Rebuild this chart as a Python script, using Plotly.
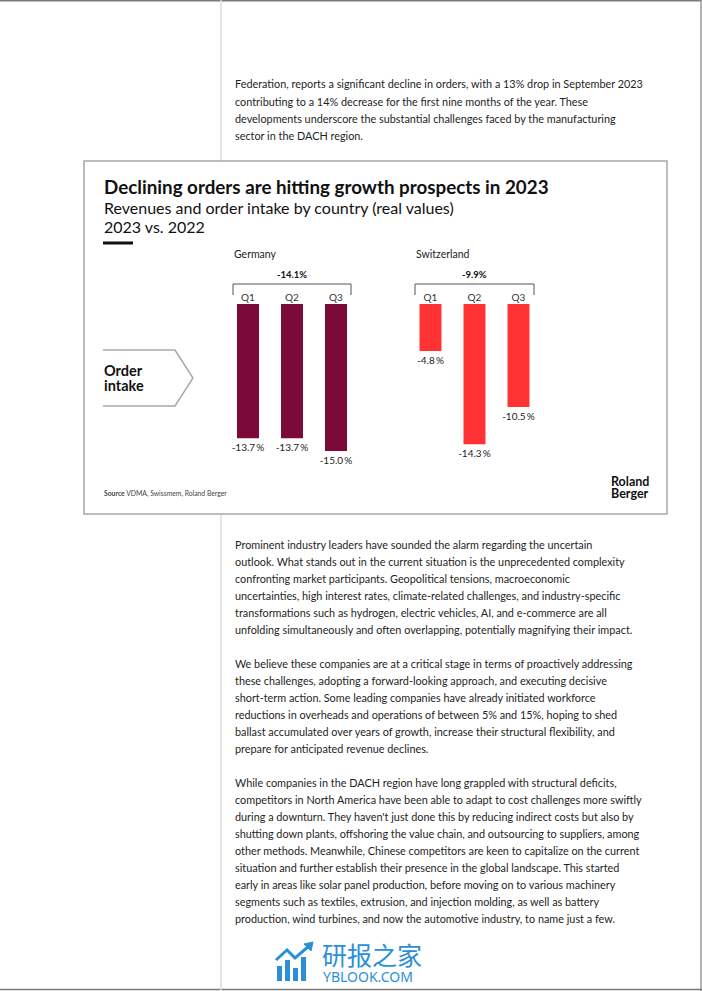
import plotly.graph_objects as go

W, H = 702, 991

# ---------------- data ----------------
quarters = ["Q1", "Q2", "Q3"]
germany_values = [-13.7, -13.7, -15.0]
switzerland_values = [-4.8, -14.3, -10.5]
germany_total = "-14.1%"
switzerland_total = "-9.9%"
germany_color = "#7b0a3a"
switzerland_color = "#ff3333"

title = "Declining orders are hitting growth prospects in 2023"
subtitle = "Revenues and order intake by country (real values)"
subtitle2 = "2023 vs. 2022"

para1 = [
    "Federation, reports a significant decline in orders, with a 13% drop in September 2023",
    "contributing to a 14% decrease for the first nine months of the year. These",
    "developments underscore the substantial challenges faced by the manufacturing",
    "sector in the DACH region.",
]
para2 = [
    "Prominent industry leaders have sounded the alarm regarding the uncertain",
    "outlook. What stands out in the current situation is the unprecedented complexity",
    "confronting market participants. Geopolitical tensions, macroeconomic",
    "uncertainties, high interest rates, climate-related challenges, and industry-specific",
    "transformations such as hydrogen, electric vehicles, AI, and e-commerce are all",
    "unfolding simultaneously and often overlapping, potentially magnifying their impact.",
]
para3 = [
    "We believe these companies are at a critical stage in terms of proactively addressing",
    "these challenges, adopting a forward-looking approach, and executing decisive",
    "short-term action. Some leading companies have already initiated workforce",
    "reductions in overheads and operations of between 5% and 15%, hoping to shed",
    "ballast accumulated over years of growth, increase their structural flexibility, and",
    "prepare for anticipated revenue declines.",
]
para4 = [
    "While companies in the DACH region have long grappled with structural deficits,",
    "competitors in North America have been able to adapt to cost challenges more swiftly",
    "during a downturn. They haven't just done this by reducing indirect costs but also by",
    "shutting down plants, offshoring the value chain, and outsourcing to suppliers, among",
    "other methods. Meanwhile, Chinese competitors are keen to capitalize on the current",
    "situation and further establish their presence in the global landscape. This started",
    "early in areas like solar panel production, before moving on to various machinery",
    "segments such as textiles, extrusion, and injection molding, as well as battery",
    "production, wind turbines, and now the automotive industry, to name just a few.",
]

FONT = "Lato"


def X(px):
    return px / W


def Y(py):
    return 1 - py / H


def fmt(v):
    return f"{v:.1f}\u2009%"


fig = go.Figure()

fig.add_trace(go.Bar(
    x=quarters, y=germany_values, xaxis="x", yaxis="y",
    marker=dict(color=germany_color, line=dict(width=0)),
    text=[fmt(v) for v in germany_values], textposition="outside", constraintext="none",
    textfont=dict(family=FONT, size=10, color="#222"),
    cliponaxis=False, showlegend=False, hoverinfo="skip",
))
fig.add_trace(go.Bar(
    x=quarters, y=switzerland_values, xaxis="x2", yaxis="y2",
    marker=dict(color=switzerland_color, line=dict(width=0)),
    text=[fmt(v) for v in switzerland_values], textposition="outside", constraintext="none",
    textfont=dict(family=FONT, size=10, color="#222"),
    cliponaxis=False, showlegend=False, hoverinfo="skip",
))

ydom = [Y(304 + 16 * 9.8), Y(304)]
axis_common = dict(showgrid=False, zeroline=False, showline=False, ticks="",
                   side="top", tickfont=dict(family=FONT, size=10, color="#333"),
                   fixedrange=True)
fig.update_layout(
    width=W, height=H, margin=dict(l=0, r=0, t=0, b=0),
    paper_bgcolor="white", plot_bgcolor="rgba(0,0,0,0)",
    bargap=0.5, hovermode=False,
    xaxis=dict(domain=[X(226), X(358)], range=[-0.5, 2.5], anchor="y", **axis_common),
    xaxis2=dict(domain=[X(408.5), X(540.5)], range=[-0.5, 2.5], anchor="y2", **axis_common),
    yaxis=dict(domain=ydom, range=[-16, 0], visible=False, fixedrange=True),
    yaxis2=dict(domain=ydom, range=[-16, 0], visible=False, fixedrange=True, anchor="x2"),
)

shapes = []
# page frame
shapes.append(dict(type="line", xref="paper", yref="paper", x0=0, x1=1, y0=Y(0.75), y1=Y(0.75),
                   line=dict(color="#7a7a7a", width=1.5)))
shapes.append(dict(type="line", xref="paper", yref="paper", x0=X(701), x1=X(701), y0=0, y1=1,
                   line=dict(color="#9a9a9a", width=1.5)))
shapes.append(dict(type="line", xref="paper", yref="paper", x0=0, x1=1, y0=Y(989.5), y1=Y(989.5),
                   line=dict(color="#7a7a7a", width=1.5)))
# vertical column rule
shapes.append(dict(type="line", xref="paper", yref="paper", x0=X(221), x1=X(221), y0=Y(0), y1=Y(161),
                   line=dict(color="#dcdcdc", width=1.5)))
shapes.append(dict(type="line", xref="paper", yref="paper", x0=X(221), x1=X(221), y0=Y(514), y1=Y(991),
                   line=dict(color="#dcdcdc", width=1.5)))
# chart box
shapes.append(dict(type="rect", xref="paper", yref="paper", x0=X(84), x1=X(667), y0=Y(514), y1=Y(161),
                   line=dict(color="#a8a8a8", width=1.5), fillcolor="rgba(0,0,0,0)"))
# short black bar under title
shapes.append(dict(type="line", xref="paper", yref="paper", x0=X(103), x1=X(133), y0=Y(243), y1=Y(243),
                   line=dict(color="#111", width=3)))
# order intake arrow outline
path = "M {} {} L {} {} L {} {} L {} {} L {} {}".format(
    X(103), Y(350), X(175), Y(350), X(193), Y(378), X(175), Y(406), X(103), Y(406))
shapes.append(dict(type="path", xref="paper", yref="paper", path=path,
                   line=dict(color="#a8a8a8", width=1.5)))
# brackets
for x0, x1 in [(233, 351), (415, 534)]:
    p = "M {} {} L {} {} L {} {} L {} {}".format(
        X(x0), Y(295), X(x0), Y(284), X(x1), Y(284), X(x1), Y(295))
    shapes.append(dict(type="path", xref="paper", yref="paper", path=p,
                       line=dict(color="#555", width=1)))

# watermark icon
blue = "#2b8fd8"
for bx0, bx1, by in [(277, 282, 966), (285, 290, 960), (293, 298, 968), (301, 306, 957)]:
    shapes.append(dict(type="rect", xref="paper", yref="paper", x0=X(bx0), x1=X(bx1), y0=Y(981), y1=Y(by),
                       fillcolor=blue, line=dict(width=0)))
p = "M {} {} L {} {} L {} {} L {} {} L {} {}".format(
    X(276), Y(960), X(287), Y(950), X(295), Y(958), X(309), Y(946), X(310), Y(946))
shapes.append(dict(type="path", xref="paper", yref="paper", path=p, line=dict(color=blue, width=3)))
shapes.append(dict(type="path", xref="paper", yref="paper",
                   path="M {} {} L {} {} L {} {} Z".format(X(304), Y(944), X(313), Y(942), X(311), Y(951)),
                   fillcolor=blue, line=dict(color=blue, width=1)))

annotations = []


def txt(x, y, s, size, color="#1a1a1a", bold=False, anchor="left", family=FONT):
    annotations.append(dict(
        x=X(x), y=Y(y), xref="paper", yref="paper", text=f"<b>{s}</b>" if bold else s,
        showarrow=False, xanchor=anchor, yanchor="middle", borderpad=0,
        font=dict(family=family, size=size, color=color),
    ))


txt(103, 187, title, 18.8, color="#111", bold=True)
txt(103, 207.5, subtitle, 16, color="#111")
txt(103, 226, subtitle2, 16, color="#111")
txt(233, 254, "Germany", 10.5, color="#222")
txt(415, 254, "Switzerland", 10.5, color="#222")
txt(292, 274, germany_total, 9.5, color="#111", bold=True, anchor="center")
txt(474, 274, switzerland_total, 9.5, color="#111", bold=True, anchor="center")
txt(103, 370.5, "Order", 14.5, color="#111", bold=True)
txt(103, 385, "intake", 14.5, color="#111", bold=True)
txt(103, 494, "<b>Source</b> VDMA, Swissmem, Roland Berger", 6.8, color="#444")
txt(610, 482, "Roland", 12.5, color="#111", bold=True)
txt(610, 493.5, "Berger", 12.5, color="#111", bold=True)

for start, para in [(84, para1), (544, para2), (663, para3), (782, para4)]:
    for i, line in enumerate(para):
        txt(234, start + i * 17, line, 10.85, color="#1e1e1e")

txt(321, 954, "研报之家", 25, color=blue, family="Noto Sans CJK SC")
txt(322, 976, "YBLOOK.COM", 14, color=blue, family="Noto Sans")

fig.update_layout(shapes=shapes, annotations=annotations)
fig.write_html("out.html", config={"displayModeBar": False, "staticPlot": True},
               post_script="document.body.style.margin='0';document.body.style.overflow='hidden';")
